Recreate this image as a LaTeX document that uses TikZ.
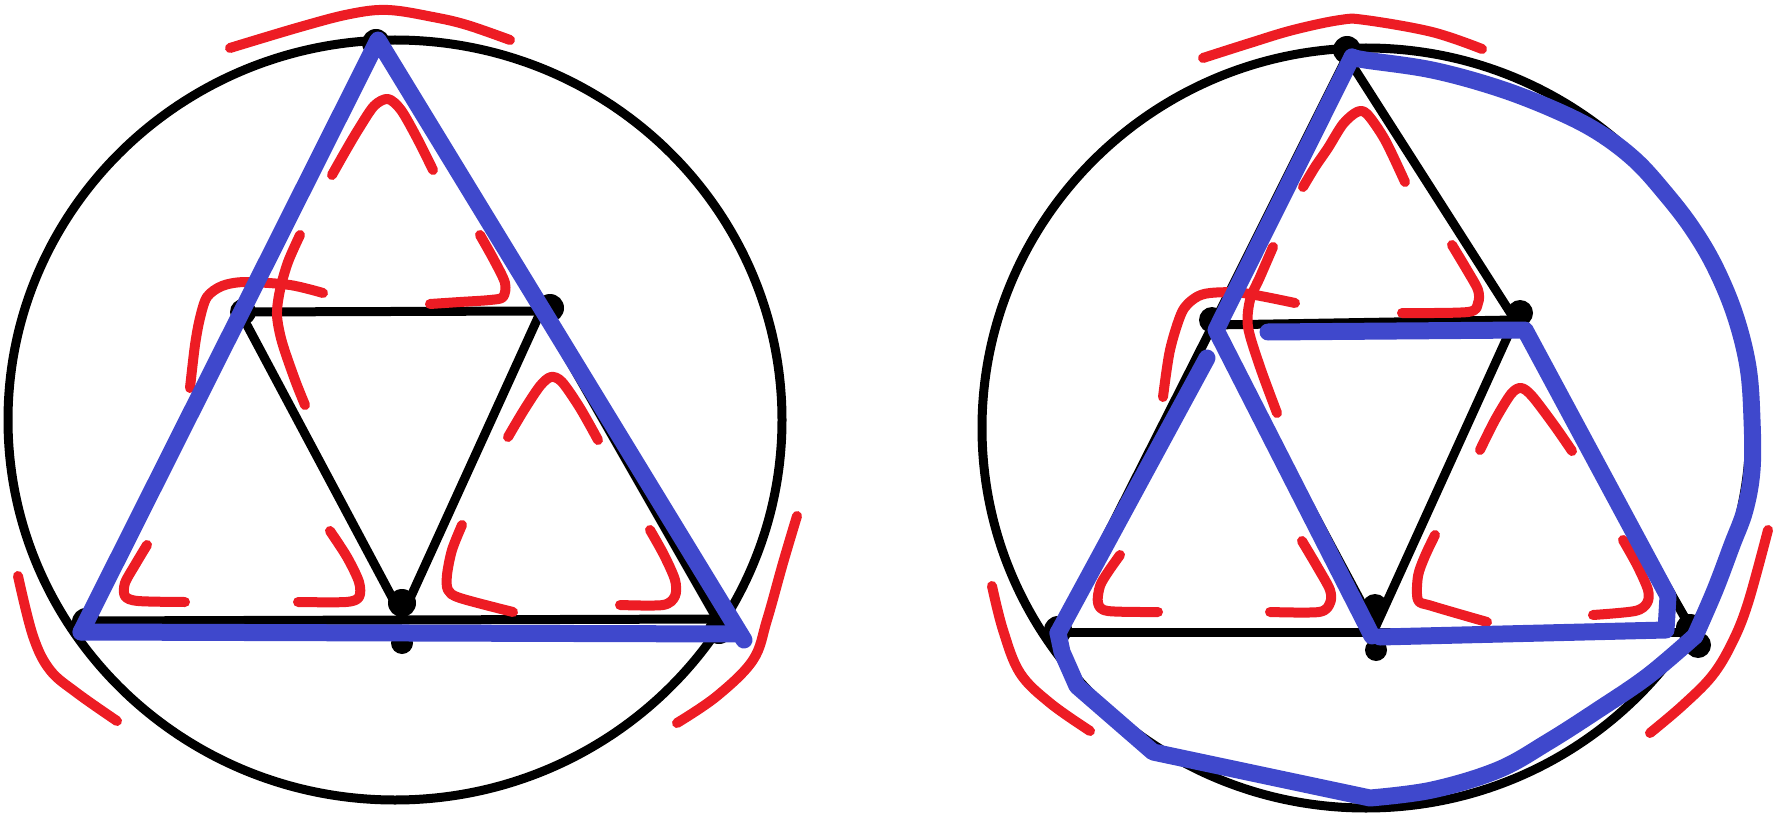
\documentclass[tikz,border=0pt]{standalone}
\definecolor{sblue}{RGB}{63,72,204}
\definecolor{sred}{RGB}{237,28,36}
\tikzset{
  blk/.style={draw=black, line width=9pt, line join=round},
  redst/.style={draw=sred, line width=10pt, line cap=round, line join=round},
  bluest/.style={draw=sblue, line width=17pt, line cap=round, line join=round},
  vdot/.style={fill=black},
}
\begin{document}
\begin{tikzpicture}[x=1pt,y=-1pt]
\useasboundingbox (0,0) rectangle (1775,813);

% ================= LEFT FIGURE =================
\coordinate (LA) at (376,42);
\coordinate (LB) at (240,312);
\coordinate (LC) at (541,311);
\coordinate (LD) at (402,616);
\coordinate (LE) at (84,621);
\coordinate (LF) at (717,619);
\coordinate (LO) at (395,420);

\draw[blk] (LO) ellipse [x radius=387pt, y radius=380pt];
\draw[blk] (LA) -- (LB) -- (LE);
\draw[blk] (LA) -- (LC) -- (LF);
\draw[blk] (LB) -- (LC);
\draw[blk] (LB) -- (LD);
\draw[blk] (LC) -- (LD);
\draw[blk] (LE) -- (LF);

\fill[vdot] (376,43) circle [radius=14pt];
\fill[vdot] (243,312) circle [radius=13pt];
\fill[vdot] (550,308) circle [radius=14pt];
\fill[vdot] (402,603) circle [radius=14pt];
\fill[vdot] (402,643) circle [radius=11pt];
\fill[vdot] (86,622) circle [radius=14pt];
\fill[vdot] (719,630) circle [radius=14pt];

% red strokes
\draw[redst] plot[smooth, tension=0.6] coordinates {(230,48) (300,27) (350,14) (388,10) (433,17) (467,25) (510,40)};
\draw[redst] plot[smooth, tension=0.5] coordinates {(332,175) (345,152) (358,130) (374,106) (388,99) (401,110) (417,138) (433,170)};
\draw[redst] plot[smooth, tension=0.5] coordinates {(190,388) (195,345) (200,318) (207,297) (222,286) (245,282) (290,285) (323,293)};
\draw[redst] plot[smooth, tension=0.5] coordinates {(300,235) (288,262) (280,290) (277,315) (282,342) (295,380) (305,405)};
\draw[redst] plot[smooth, tension=0.5] coordinates {(480,235) (494,260) (505,283) (503,297) (490,300) (460,302) (430,304)};
\draw[redst] plot[smooth, tension=0.5] coordinates {(508,437) (524,410) (540,386) (551,377) (562,382) (580,408) (598,440)};
\draw[redst] plot[smooth, tension=0.5] coordinates {(147,545) (135,565) (125,583) (125,596) (138,601) (185,602)};
\draw[redst] plot[smooth, tension=0.5] coordinates {(330,531) (347,557) (359,582) (359,597) (346,602) (298,602)};
\draw[redst] plot[smooth, tension=0.5] coordinates {(462,525) (452,550) (447,575) (448,590) (460,598) (513,612)};
\draw[redst] plot[smooth, tension=0.5] coordinates {(650,530) (664,555) (675,580) (675,596) (663,605) (620,605)};
\draw[redst] plot[smooth, tension=0.6] coordinates {(18,576) (33,636) (50,670) (77,693) (117,721)};
\draw[redst] plot[smooth, tension=0.6] coordinates {(797,516) (783,563) (767,620) (753,660) (717,696) (677,723)};

% blue
\coordinate (LbA) at (378,40);
\coordinate (LbE) at (81,632);
\coordinate (LbF) at (744,640);
\coordinate (LbG) at (740,634);
\draw[bluest] (LbE) -- (LbA) -- (LbF);
\draw[bluest] (LbE) -- (LbG);

% ================= RIGHT FIGURE =================
\coordinate (RA) at (1347,57);
\coordinate (RB) at (1213,325);
\coordinate (RC) at (1515,320);
\coordinate (RD) at (1375,628);
\coordinate (RE) at (1058,632);
\coordinate (RF) at (1693,632);
\coordinate (RO) at (1366,428);

\draw[blk] (RO) ellipse [x radius=384pt, y radius=380pt];
\draw[blk] (RA) -- (RB) -- (RE);
\draw[blk] (RA) -- (RC) -- (RF);
\draw[blk] (RB) -- (RC);
\draw[blk] (RB) -- (RD);
\draw[blk] (RC) -- (RD);
\draw[blk] (RE) -- (RF);

\fill[vdot] (1347,50) circle [radius=14pt];
\fill[vdot] (1212,320) circle [radius=13pt];
\fill[vdot] (1520,313) circle [radius=13pt];
\fill[vdot] (1375,607) circle [radius=13pt];
\fill[vdot] (1376,650) circle [radius=11pt];
\fill[vdot] (1058,630) circle [radius=14pt];
\fill[vdot] (1690,628) circle [radius=14pt];
\fill[vdot] (1698,645) circle [radius=13pt];

% red strokes
\draw[redst] plot[smooth, tension=0.6] coordinates {(1203,58) (1250,43) (1293,30) (1340,20) (1365,20) (1432,32) (1482,49)};
\draw[redst] plot[smooth, tension=0.5] coordinates {(1303,187) (1315,167) (1328,148) (1343,124) (1357,112) (1367,114) (1385,140) (1405,182)};
\draw[redst] plot[smooth, tension=0.5] coordinates {(1163,397) (1170,350) (1182,312) (1195,298) (1210,293) (1243,293) (1295,303)};
\draw[redst] plot[smooth, tension=0.5] coordinates {(1273,247) (1260,277) (1250,300) (1248,327) (1260,367) (1277,413)};
\draw[redst] plot[smooth, tension=0.5] coordinates {(1452,245) (1467,270) (1478,290) (1478,303) (1468,312) (1402,313)};
\draw[redst] plot[smooth, tension=0.5] coordinates {(1480,450) (1495,420) (1511,394) (1521,388) (1532,396) (1554,425) (1572,451)};
\draw[redst] plot[smooth, tension=0.5] coordinates {(1120,555) (1108,572) (1100,586) (1098,603) (1108,611) (1158,612)};
\draw[redst] plot[smooth, tension=0.5] coordinates {(1302,541) (1318,568) (1330,590) (1330,603) (1319,612) (1270,612)};
\draw[redst] plot[smooth, tension=0.5] coordinates {(1435,535) (1425,556) (1418,576) (1418,600) (1432,606) (1487,622)};
\draw[redst] plot[smooth, tension=0.5] coordinates {(1623,540) (1637,565) (1648,590) (1647,603) (1635,611) (1593,615)};
\draw[redst] plot[smooth, tension=0.6] coordinates {(992,586) (1003,630) (1020,673) (1050,703) (1090,731)};
\draw[redst] plot[smooth, tension=0.6] coordinates {(1768,530) (1748,603) (1732,643) (1712,676) (1682,706) (1650,733)};

% blue
\coordinate (RbA) at (1352,57);
\coordinate (RbB) at (1216,330);
\coordinate (RbD) at (1372,636);
\coordinate (RbH) at (1268,332);
\coordinate (RbC) at (1525,330);
\coordinate (RbK) at (1668,596);
\coordinate (RbF) at (1666,630);
\coordinate (RbM) at (1380,637);
\coordinate (RbS) at (1207,358);
\coordinate (RbE) at (1058,633);
\coordinate (RbR) at (1695,636);
\draw[bluest] (RbA) -- (RbB) -- (RbD);
\draw[bluest] (RbH) -- (RbC) -- (RbK) -- (RbF) -- (RbM);
\draw[bluest] (RbS) -- (RbE);
\draw[bluest] (RbE) -- (1062,652) -- (1077,686) -- (1153,752) -- (1370,798)
  -- plot[smooth, tension=0.6] coordinates {(1370,798) (1432,790) (1498,770) (1548,742) (1598,710) (1648,676) (RbR)};
\draw[bluest] plot[smooth, tension=0.6] coordinates {(RbR) (1715,590) (1732,545) (1745,510) (1752,470) (1752,420) (1748,367) (1735,315) (1715,267) (1692,228) (1665,193) (1635,160) (1598,132) (1555,110) (1498,88) (1432,70) (1365,60) (RbA)};

\end{tikzpicture}
\end{document}
